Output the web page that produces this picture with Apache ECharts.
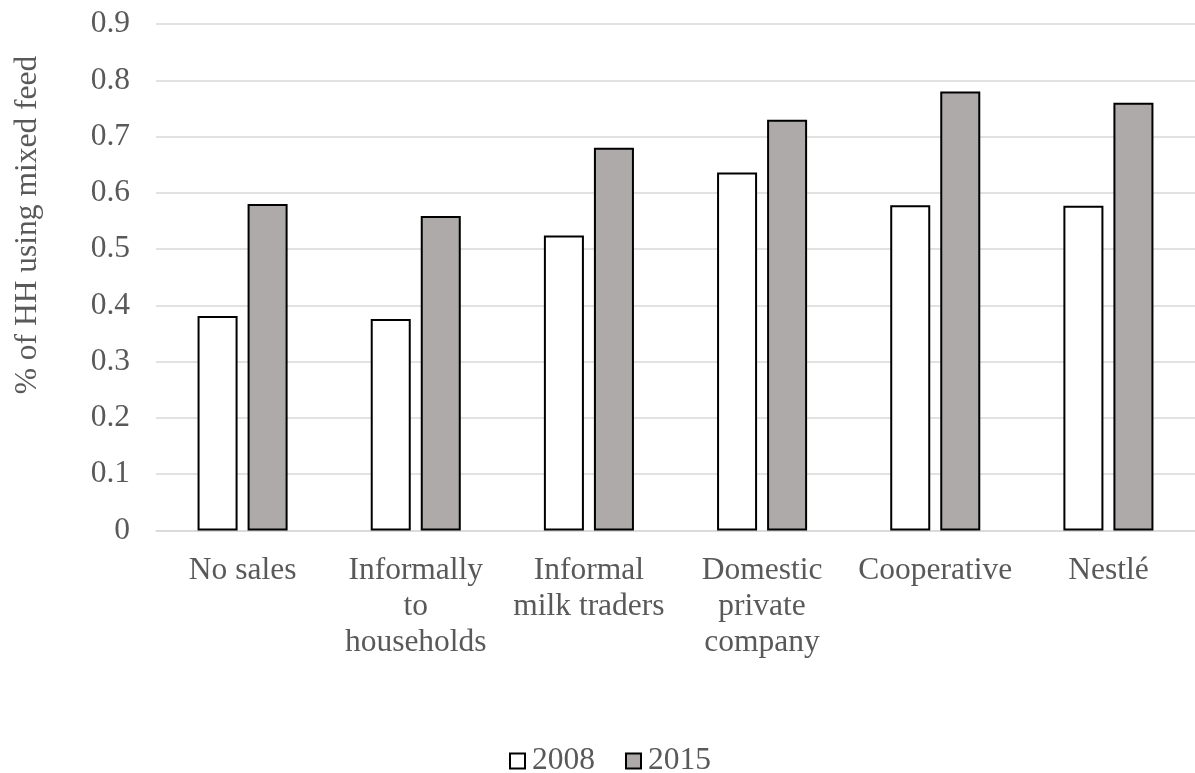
<!DOCTYPE html>
<html>
<head>
<meta charset="utf-8">
<script src="https://cdn.jsdelivr.net/npm/echarts@6/dist/echarts.min.js"></script>
<style>html,body{margin:0;padding:0;background:#fff}#c{width:1195px;height:773px}</style>
</head>
<body>
<div id="c"></div>
<script>
const categories = ["No sales", "Informally\nto\nhouseholds", "Informal\nmilk traders", "Domestic\nprivate\ncompany", "Cooperative", "Nestlé"];
const values2008 = [0.381, 0.376, 0.524, 0.636, 0.578, 0.577];
const values2015 = [0.580, 0.559, 0.680, 0.730, 0.780, 0.760];
const seriesNames = ["2008", "2015"];
const yTitle = "% of HH using mixed feed";

const chart = echarts.init(document.getElementById('c'), null, {renderer: 'canvas'});
const font = "'Liberation Serif', 'Times New Roman', serif";
const textColor = '#595959';
const fs = 31.5;
chart.setOption({
  animation: false,
  grid: {left: 156, right: 0, top: 24, bottom: 242.5},
  graphic: [{
    type: 'text', x: 28, y: 225, rotation: Math.PI / 2,
    style: {text: yTitle, fontFamily: font, fontSize: fs, fill: textColor, align: 'center', verticalAlign: 'middle'}
  }],
  legend: {
    top: 740, left: 504,
    icon: 'rect',
    itemWidth: 15, itemHeight: 15, itemGap: 30,
    textStyle: {fontFamily: font, fontSize: fs, color: textColor, padding: [0, 0, 0, 2]},
    data: seriesNames
  },
  xAxis: {
    type: 'category', data: categories,
    axisLine: {lineStyle: {color: '#d9d9d9', width: 1.5}},
    axisTick: {show: false},
    axisLabel: {fontFamily: font, fontSize: fs, color: textColor, lineHeight: 36, margin: 22, interval: 0}
  },
  yAxis: {
    type: 'value', min: 0, max: 0.9, interval: 0.1,
    axisLine: {show: false}, axisTick: {show: false},
    axisLabel: {fontFamily: font, fontSize: fs, color: textColor, margin: 26,
      formatter: v => v === 0 ? '0' : v.toFixed(1)},
    splitLine: {lineStyle: {color: '#d9d9d9', width: 1.5}}
  },
  series: [
    {name: seriesNames[0], type: 'bar', data: values2008, barGap: '25%', barCategoryGap: '48%',
     itemStyle: {color: '#ffffff', borderColor: '#000000', borderWidth: 2}},
    {name: seriesNames[1], type: 'bar', data: values2015,
     itemStyle: {color: '#aeaaaa', borderColor: '#000000', borderWidth: 2}}
  ]
});
</script>
</body>
</html>
